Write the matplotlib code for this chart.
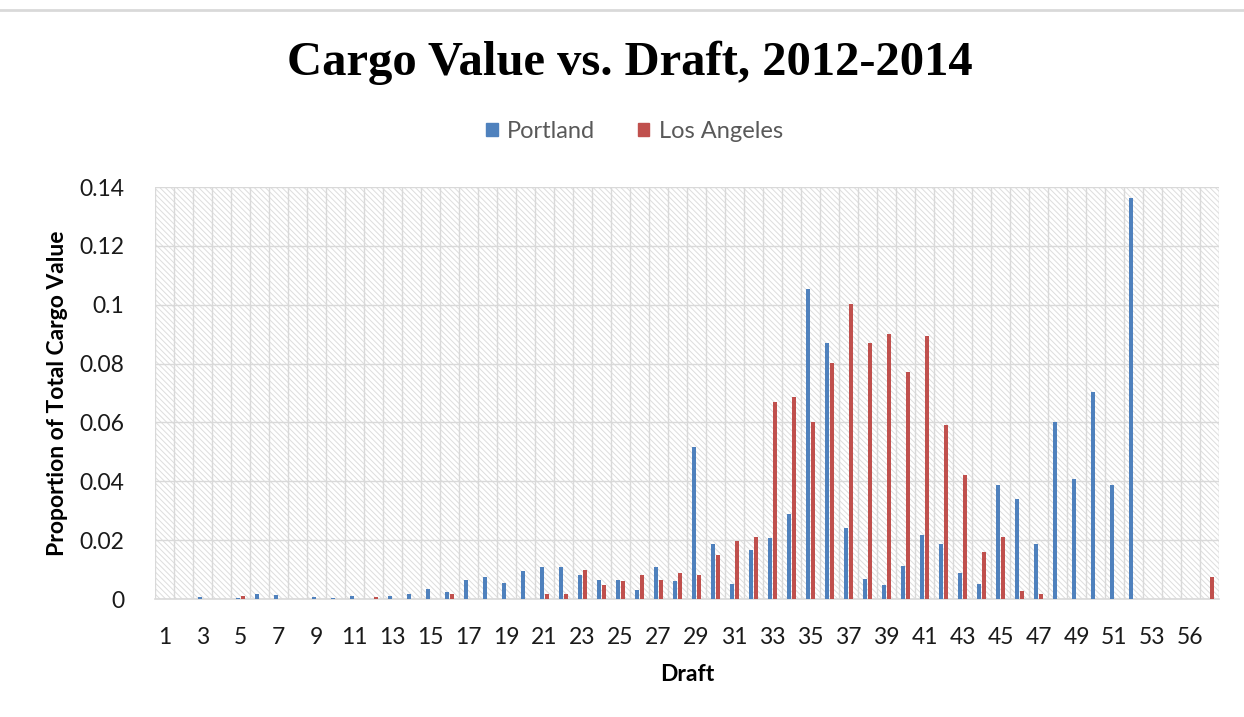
import numpy as np
import matplotlib
matplotlib.use("Agg")
import matplotlib.pyplot as plt
from matplotlib.patches import Patch
from matplotlib.lines import Line2D

# draft categories (feet) as they appear on the axis
drafts = list(range(1, 55)) + [56, 57]

# proportion of total cargo value
portland = [
    0, 0, 0.0008, 0, 0.0005, 0.0018, 0.0012, 0, 0.0008, 0.0005,
    0.0009, 0, 0.0009, 0.0018, 0.0033, 0.0023, 0.0066, 0.0075, 0.0056, 0.0094,
    0.0108, 0.0108, 0.0083, 0.0066, 0.0066, 0.0032, 0.0108, 0.0060, 0.0518, 0.0188,
    0.0051, 0.0165, 0.0207, 0.0288, 0.1055, 0.0870, 0.0240, 0.0069, 0.0047, 0.0111,
    0.0216, 0.0188, 0.0089, 0.0051, 0.0386, 0.0339, 0.0188, 0.0602, 0.0409, 0.0702,
    0.0386, 0.1361, 0, 0, 0, 0,
]
los_angeles = [
    0, 0, 0, 0, 0.0010, 0, 0, 0, 0, 0,
    0, 0.0006, 0, 0, 0, 0.0018, 0, 0, 0, 0,
    0.0017, 0.0017, 0.0098, 0.0047, 0.0060, 0.0080, 0.0066, 0.0089, 0.0083, 0.0149,
    0.0197, 0.0211, 0.0668, 0.0688, 0.0602, 0.0801, 0.1003, 0.0870, 0.0899, 0.0773,
    0.0894, 0.0592, 0.0423, 0.0159, 0.0211, 0.0026, 0.0017, 0, 0, 0,
    0, 0, 0, 0, 0, 0.0075,
]
yticks = [0, 0.02, 0.04, 0.06, 0.08, 0.1, 0.12, 0.14]

blue = "#4F81BD"
red = "#C0504D"
grid_gray = "#d9d9d9"

plt.rcParams["font.family"] = ["Lato", "DejaVu Sans"]
plt.rcParams["hatch.linewidth"] = 0.7

fig = plt.figure(figsize=(12.44, 7.17), dpi=100)
ax = fig.add_axes([155 / 1244, 118 / 717, 1064 / 1244, 412 / 717])

# hatched plot area like the excel pattern fill
ax.patch.set_facecolor("white")
ax.patch.set_hatch("\\\\\\\\\\\\")
ax.patch.set_edgecolor("#dddddd")
ax.patch.set_linewidth(0)

x = np.arange(len(drafts))
w = 0.21
ax.bar(x - 0.11, portland, width=w, color=blue, zorder=3)
ax.bar(x + 0.11, los_angeles, width=w, color=red, zorder=3)

ax.set_xlim(-0.5, len(drafts) - 0.5)
ax.set_ylim(0, 0.14)

# category labels every other draft
ax.set_xticks(x[::2])
ax.set_xticklabels([str(d) for d in drafts[::2]])
ax.set_xticks(np.arange(-0.5, len(drafts), 1.0), minor=True)
ax.set_yticks(yticks)
ax.set_yticklabels([f"{v:g}" for v in yticks])

ax.grid(True, which="minor", axis="x", color=grid_gray, lw=1.0, zorder=1)
ax.grid(True, which="major", axis="y", color=grid_gray, lw=1.0, zorder=1)
ax.set_axisbelow(True)

for s in ["top", "right", "left"]:
    ax.spines[s].set_visible(False)
ax.spines["bottom"].set_color(grid_gray)
ax.spines["bottom"].set_linewidth(1.2)

ax.tick_params(axis="both", which="both", length=0, labelsize=16.5, labelcolor="#1a1a1a")
ax.tick_params(axis="x", pad=20)
ax.tick_params(axis="y", pad=22)

ax.set_xlabel("Draft", fontsize=16.5, fontweight="bold", labelpad=12)
ax.set_ylabel("Proportion of Total Cargo Value", fontsize=16.5, fontweight="bold", labelpad=8)

fig.text(0.506, 0.913, "Cargo Value vs. Draft, 2012-2014", ha="center", va="center",
         fontsize=35, fontweight="bold", family=["Liberation Serif", "DejaVu Serif"])

handles = [Patch(color=blue, label="Portland"), Patch(color=red, label="Los Angeles")]
fig.legend(handles=handles, loc="center", bbox_to_anchor=(0.51, 0.817), ncol=2,
           frameon=False, fontsize=17, handlelength=0.5, handleheight=0.5,
           handletextpad=0.4, columnspacing=1.8, labelcolor="#595959")

# chart area border line at the top
fig.add_artist(Line2D([0, 1], [1 - 10 / 717, 1 - 10 / 717], color=grid_gray, lw=2,
                      transform=fig.transFigure))

fig.savefig("out.png", dpi=100, facecolor="white")
